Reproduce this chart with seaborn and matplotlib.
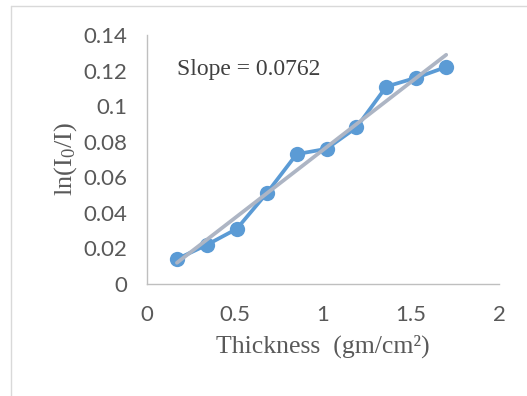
import numpy as np
import pandas as pd
import matplotlib.pyplot as plt
import seaborn as sns
from matplotlib.lines import Line2D

# data
thickness = [0.17, 0.34, 0.51, 0.68, 0.85, 1.02, 1.19, 1.36, 1.53, 1.70]
ln_ratio = [0.014, 0.022, 0.031, 0.051, 0.073, 0.076, 0.088, 0.111, 0.116, 0.122]
x_ticks = [0, 0.5, 1, 1.5, 2]
y_ticks = [0, 0.02, 0.04, 0.06, 0.08, 0.1, 0.12, 0.14]
x_tick_labels = ["0", "0.5", "1", "1.5", "2"]
y_tick_labels = ["0", "0.02", "0.04", "0.06", "0.08", "0.1", "0.12", "0.14"]
slope_text = "Slope = 0.0762"

df = pd.DataFrame({"thickness": thickness, "ln_ratio": ln_ratio})

sns.set_style("white")
plt.rcParams["font.family"] = ["Lato", "DejaVu Sans"]
plt.rcParams["mathtext.fontset"] = "custom"
plt.rcParams["mathtext.rm"] = "Liberation Serif"
plt.rcParams["mathtext.it"] = "Liberation Serif"

fig = plt.figure(figsize=(5.27, 3.96), dpi=100)
ax = fig.add_axes([147 / 527, 1 - 284 / 396, (499 - 147) / 527, (284 - 35) / 396])

sns.lineplot(data=df, x="thickness", y="ln_ratio", ax=ax, color="#5B9BD5",
             linewidth=2.7, marker="o", markersize=11, markeredgewidth=0, zorder=2)
sns.regplot(data=df, x="thickness", y="ln_ratio", ax=ax, scatter=False, ci=None,
            line_kws={"color": "#ADB5C4", "linewidth": 2.7, "zorder": 3})

ax.set_xlim(0, 2)
ax.set_ylim(0, 0.14)
ax.set_xticks(x_ticks)
ax.set_xticklabels(x_tick_labels)
ax.set_yticks(y_ticks)
ax.set_yticklabels(y_tick_labels)
ax.tick_params(axis="both", labelsize=16, labelcolor="#595959", length=6,
               width=1, color="#BFBFBF", direction="out")
ax.tick_params(axis="x", pad=9)
ax.tick_params(axis="y", pad=8)

for side in ["top", "right"]:
    ax.spines[side].set_visible(False)
for side in ["left", "bottom"]:
    ax.spines[side].set_color("#BFBFBF")
    ax.spines[side].set_linewidth(1)

ax.set_xlabel("Thickness  (gm/cm²)", family="Liberation Serif", fontsize=18.5,
              color="#595959", labelpad=7)
ax.set_ylabel(r"ln(I$_{\rm 0}$/I)", family="Liberation Serif", fontsize=19,
              color="#595959", labelpad=3)

ax.text(0.17, 0.1205, slope_text, family="Liberation Serif", fontsize=17,
        color="#404040", va="center", ha="left")

# chart area border
fig.add_artist(Line2D([11 / 527, 1], [1 - 6 / 396, 1 - 6 / 396],
                      transform=fig.transFigure, color="#D9D9D9", linewidth=1))
fig.add_artist(Line2D([11 / 527, 11 / 527], [0, 1 - 6 / 396],
                      transform=fig.transFigure, color="#D9D9D9", linewidth=1))

fig.savefig("out.png", dpi=100)
